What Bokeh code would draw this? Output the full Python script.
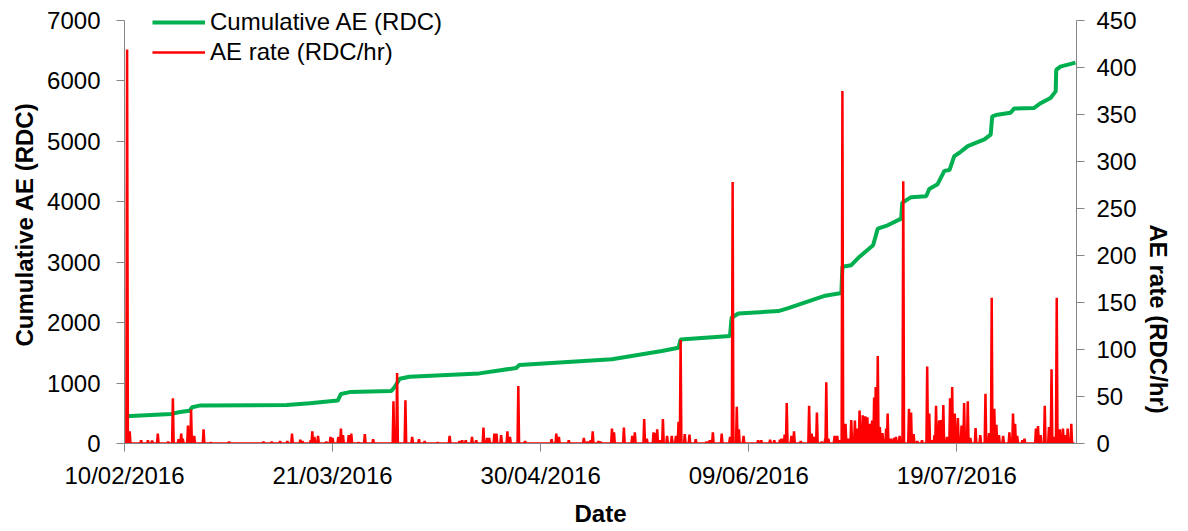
import math
from bokeh.plotting import figure
from bokeh.models import Range1d, LinearAxis, FixedTicker, Legend, LegendItem
from bokeh.embed import file_html
from bokeh.resources import INLINE

# ---------------- data ----------------
# x values are days since 10/02/2016
tick_days = [0, 40, 80, 120, 160]
tick_labels = ["10/02/2016", "21/03/2016", "30/04/2016", "09/06/2016", "19/07/2016"]
left_ticks = [0, 1000, 2000, 3000, 4000, 5000, 6000, 7000]
right_ticks = [0, 50, 100, 150, 200, 250, 300, 350, 400, 450]

cum_days = [0.2, 9.0, 10.7, 12.5, 13.0, 14.6, 31.2, 35.6, 41.0, 41.6, 43.3, 51.3,
            51.9, 52.9, 54.8, 68.2, 75.3, 75.9, 93.7, 103.3, 106.5, 106.9, 116.4,
            116.7, 118.0, 125.7, 127.6, 134.7, 137.8, 138.0, 139.7, 141.3, 143.9,
            144.8, 146.7, 149.3, 149.5, 151.2, 154.1, 154.7, 156.3, 157.6, 158.6,
            159.5, 160.5, 162.1, 165.3, 166.5, 166.8, 167.8, 170.3, 171.0, 174.8,
            176.1, 178.0, 179.0, 179.1, 179.9, 182.8]
cum_ae = [450, 490, 520, 540, 600, 630, 635, 665, 710, 820, 850, 870,
          930, 1070, 1105, 1160, 1250, 1300, 1395, 1530, 1585, 1720, 1780,
          2080, 2150, 2190, 2240, 2445, 2490, 2925, 2950, 3090, 3280,
          3555, 3610, 3720, 3980, 4075, 4090, 4210, 4290, 4510, 4525,
          4755, 4810, 4920, 5030, 5110, 5410, 5440, 5470, 5540, 5550,
          5630, 5715, 5825, 6180, 6235, 6300]

rate_days = [0.5, 1.0, 3.2, 4.5, 5.3, 6.4, 8.4, 9.3, 10.4, 10.9, 11.2, 12.2, 12.8,
             13.4, 15.2, 16.6, 20.1, 26.7, 28.3, 29.9,
             31.3, 32.2, 33.8, 34.2, 35.8, 36.1, 36.5, 37.2, 38.8, 39.6, 40.0, 41.1,
             41.6, 42.0, 43.1, 43.6, 45.0, 46.2, 47.8, 51.7, 52.4, 54.0, 55.3, 56.6,
             57.7, 60.2,
             62.5, 64.4, 64.9, 65.6, 66.8, 67.6, 69.0, 69.7, 70.1, 71.1, 71.5, 72.4,
             73.6, 74.1, 75.7, 77.0, 82.1, 83.0, 83.5, 85.4, 88.3, 89.0, 89.6, 90.0,
             91.1,
             91.5, 93.7, 94.1, 96.0, 97.6, 98.1, 99.9, 100.4, 101.7, 102.0, 102.4,
             102.9, 103.5, 104.3, 105.2, 106.0, 106.5, 106.9, 107.7, 108.6, 109.8,
             111.9, 112.5, 113.1, 114.8, 116.4, 116.9, 117.7, 118.1, 119.0, 121.8,
             122.4,
             124.1, 124.9, 126.0, 126.3, 126.9, 127.3, 128.2, 128.7, 130.0, 131.6,
             132.1, 132.6, 133.1, 134.0, 134.7, 134.9, 135.3, 136.5, 137.0, 137.5,
             138.0, 138.6, 139.1, 139.7, 140.4, 140.9, 141.3, 141.9, 142.4, 142.8,
             143.2, 143.7, 144.1, 144.4, 144.8, 145.2, 145.7, 146.4, 146.7, 147.3,
             147.9, 148.3, 149.0, 149.7, 150.8, 151.2, 151.7, 152.4,
             153.3, 154.3, 154.7, 155.2, 155.7, 156.0, 156.6, 156.9, 157.4, 158.1,
             158.7, 159.1, 159.6, 160.2, 160.9, 161.4, 162.1, 162.6, 163.6, 164.5,
             165.5, 166.2, 166.7, 167.2, 167.6, 168.1, 168.9, 170.1, 170.8, 171.2,
             171.6, 172.6, 173.0, 175.2, 175.6, 176.1, 176.9, 177.7, 178.2, 178.7,
             179.2, 179.8, 180.4, 180.9, 181.3, 182.0]
rate_vals = [419, 13, 3.5, 3.5, 3, 10.5, 2, 48, 4.5, 10.5, 5, 19, 36,
             8, 15, 1, 2, 2, 2, 2.5,
             2.5, 10.5, 4, 2.5, 3.5, 13, 7, 8, 2, 7, 6, 7,
             16, 9, 9, 10.5, 1, 10, 4.5, 45, 75, 46, 7, 4.5,
             2.5, 1,
             8, 2.5, 3.5, 3.5, 7, 3.5, 17, 6, 6, 10.5, 10.5, 9,
             13, 7, 61, 2.5, 4.5, 10.5, 7, 3.5, 6, 2, 3.5, 13,
             2.5,
             2, 16, 12, 17, 8, 12, 26, 5, 12, 11, 15,
             3.5, 26, 8, 8, 8, 23, 110, 10, 9.5, 4.5,
             2, 3.5, 12, 10.5, 7, 278, 39, 15, 8, 3.5,
             3.5,
             4, 3.5, 4, 5, 9.5, 43, 8, 13, 2.5, 40,
             10.5, 7, 33, 2, 5, 65, 5, 8, 8, 3.5,
             375, 21, 5, 25, 24.5, 16, 35, 30, 29, 28,
             21, 24.5, 49, 60, 93, 17.5, 11, 16, 32, 5,
             6, 7, 8, 279, 37, 33, 10, 2.5,
             3.5, 82, 32, 3.5, 9, 40, 24.5, 25, 41, 7,
             48, 60, 32, 27, 19, 43, 45, 6, 16.5, 9,
             53, 11, 155, 37, 20, 9, 8, 12, 32, 21,
             8, 3.5, 5, 16, 18.5, 9, 40, 17.5, 79, 7,
             155, 15, 16, 9, 16, 21]

# build the red line path (baseline at zero with narrow peaks)
rx, ry = [0.0], [0.0]
for d, v in zip(rate_days, rate_vals):
    rx += [d - 0.15, d, d + 0.15]
    ry += [0.0, v, 0.0]
rx.append(182.6)
ry.append(0.0)

FONT = "Liberation Sans"
GREY = "#868686"

# frame spans 442 px vertically; the axes' top ticks sit 15 px below the frame top
FRAME_H = 442
AXIS_H = 427
left_top = left_ticks[-1] * FRAME_H / AXIS_H
right_top = right_ticks[-1] * FRAME_H / AXIS_H

p = figure(width=1188, height=529, output_backend="svg", toolbar_location=None,
           x_range=Range1d(0, 183), y_range=Range1d(0, left_top),
           min_border_left=124, min_border_right=109, min_border_top=5,
           min_border_bottom=82)
p.extra_y_ranges = {"rate": Range1d(0, right_top)}
p.outline_line_color = None
p.xgrid.visible = False
p.ygrid.visible = False
p.background_fill_color = "white"
p.border_fill_color = "white"

g = p.line(cum_days, cum_ae, line_color="#00B050", line_width=4)
r = p.line(rx, ry, line_color="#FF0000", line_width=2.5, y_range_name="rate")

def style_axis(ax, ticks):
    ax.ticker = FixedTicker(ticks=ticks)
    ax.axis_line_color = GREY
    ax.major_tick_line_color = GREY
    ax.minor_tick_line_color = None
    ax.major_tick_out = 8
    ax.major_tick_in = 0
    ax.major_label_text_font = FONT
    ax.major_label_text_font_size = "24px"
    ax.major_label_text_color = "black"
    ax.axis_label_text_font = FONT
    ax.axis_label_text_font_size = "24px"
    ax.axis_label_text_font_style = "bold"
    ax.axis_label_text_color = "black"

xa = p.xaxis[0]
style_axis(xa, tick_days)
xa.major_label_overrides = {d: s for d, s in zip(tick_days, tick_labels)}
xa.axis_label = "Date"
xa.major_label_standoff = 10
xa.axis_label_standoff = 8

ya = p.yaxis[0]
style_axis(ya, left_ticks)
ya.bounds = (left_ticks[0], left_ticks[-1])
ya.axis_label = "Cumulative AE (RDC)"
ya.major_label_standoff = 16
ya.axis_label_standoff = 6

ra = LinearAxis(y_range_name="rate", axis_label="AE rate (RDC/hr)")
style_axis(ra, right_ticks)
ra.bounds = (right_ticks[0], right_ticks[-1])
ra.major_label_standoff = 12
ra.axis_label_standoff = 19
ra.axis_label_orientation = -math.pi / 2
p.add_layout(ra, "right")

legend = Legend(items=[LegendItem(label="Cumulative AE (RDC)", renderers=[g]),
                       LegendItem(label="AE rate (RDC/hr)", renderers=[r])],
                location=(28, 376), padding=0, margin=0, spacing=0,
                glyph_width=53, glyph_height=30, label_height=30,
                label_standoff=5, border_line_color=None,
                background_fill_alpha=0)
legend.label_text_font = FONT
legend.label_text_font_size = "24px"
legend.label_text_color = "black"
p.add_layout(legend)

open("out.html", "w").write(file_html(p, INLINE))
